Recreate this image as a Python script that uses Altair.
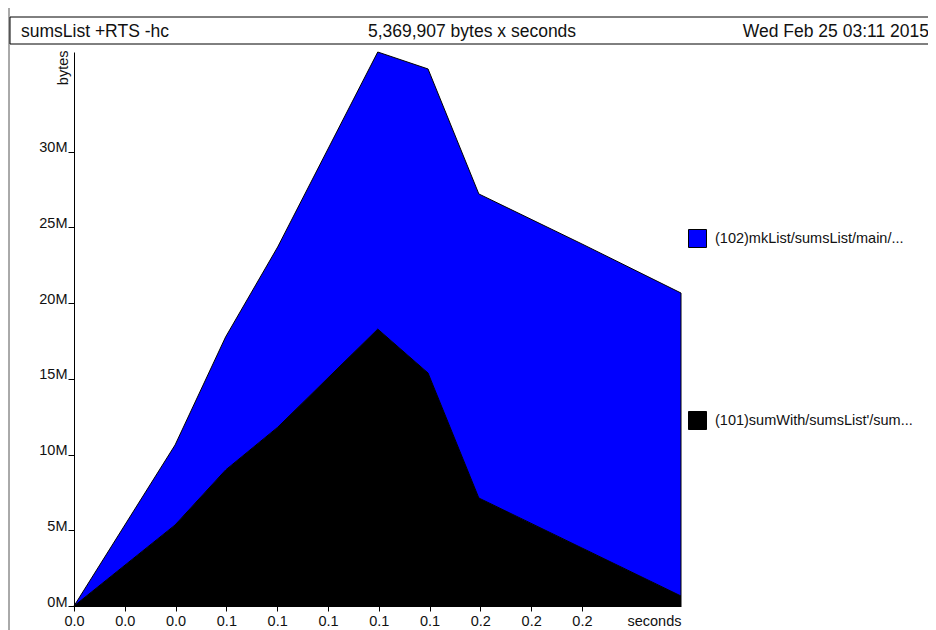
import altair as alt
import pandas as pd

# ---- data (heap profile, bytes vs seconds) ----
times = [0.0, 0.0398, 0.0597, 0.0802, 0.1196, 0.1394, 0.1594, 0.2000, 0.2390]
sumwith_bytes = [0, 5.35e6, 8.98e6, 11.80e6, 18.28e6, 15.38e6, 7.13e6, 3.83e6, 0.66e6]
mklist_bytes = [0, 5.28e6, 8.78e6, 11.90e6, 18.29e6, 20.07e6, 20.07e6, 20.07e6, 20.00e6]

band_mk = "(102)mkList/sumsList/main/..."
band_sw = "(101)sumWith/sumsList'/sum..."

x_tick_values = [0.0, 0.02, 0.04, 0.06, 0.08, 0.10, 0.12, 0.14, 0.16, 0.18, 0.20]
y_tick_values = [0, 5e6, 10e6, 15e6, 20e6, 25e6, 30e6]

header_left = "sumsList +RTS -hc"
header_mid = "5,369,907 bytes x seconds"
header_right = "Wed Feb 25 03:11 2015"

FONT = "Liberation Sans"
SMALL = 14.5
BIG = 17.5

rows = []
for t, a, b in zip(times, sumwith_bytes, mklist_bytes):
    rows.append({"t": t, "bytes": a, "band": band_sw, "k": 0})
    rows.append({"t": t, "bytes": b, "band": band_mk, "k": 1})
df = pd.DataFrame(rows)

ymax = max(a + b for a, b in zip(sumwith_bytes, mklist_bytes))

W, H = 607, 554

areas = alt.Chart(df).mark_area(stroke="black", strokeWidth=1, opacity=1).encode(
    x=alt.X("t:Q",
            scale=alt.Scale(domain=[0, times[-1]], nice=False, zero=False),
            axis=alt.Axis(values=x_tick_values, labelExpr="format(datum.value, '.1f')",
                          tickSize=5, tickColor="black", domainColor="black", grid=False,
                          labelFont=FONT, labelFontSize=SMALL, labelColor="#111", labelPadding=3,
                          labelFlush=False,
                          title="seconds", titleFont=FONT, titleFontSize=SMALL, titleFontWeight="normal",
                          titleColor="#111", titleAnchor="end", titleAlign="right",
                          titleBaseline="top", titleX=W, titleY=8)),
    y=alt.Y("bytes:Q", stack="zero",
            scale=alt.Scale(domain=[0, ymax], nice=False),
            axis=alt.Axis(values=y_tick_values, labelExpr="(datum.value/1000000) + 'M'",
                          tickSize=6, tickColor="black", domainColor="black", grid=False,
                          labelFont=FONT, labelFontSize=SMALL, labelColor="#111", labelPadding=1,
                          labelBaseline="alphabetic",
                          title="bytes", titleFont=FONT, titleFontSize=SMALL, titleFontWeight="normal",
                          titleColor="#111", titleAngle=270, titleAlign="right",
                          titleBaseline="alphabetic", titleX=-7, titleY=-2)),
    color=alt.Color("band:N",
                    scale=alt.Scale(domain=[band_mk, band_sw], range=["#0000ff", "#000000"]),
                    legend=alt.Legend(orient="none", legendX=614, legendY=177, direction="vertical",
                                      title=None, symbolType="square", symbolSize=324,
                                      symbolStrokeColor="black", symbolStrokeWidth=1,
                                      symbolOpacity=1,
                                      labelFont=FONT, labelFontSize=SMALL, labelColor="#111",
                                      labelOffset=8, rowPadding=159, padding=0, labelLimit=400)),
    order=alt.Order("k:Q", sort="ascending"),
)

hdr = pd.DataFrame({"a": [header_left], "b": [header_mid], "c": [header_right]})

box = alt.Chart(hdr).mark_rect(fill=None, stroke="black", strokeWidth=1, clip=False).encode(
    x=alt.value(-64), x2=alt.value(900), y=alt.value(-35), y2=alt.value(-8))

t_left = alt.Chart(hdr).mark_text(align="left", baseline="middle", font=FONT, fontSize=BIG,
                                  color="#111").encode(
    x=alt.value(-53), y=alt.value(-20), text="a:N")
t_mid = alt.Chart(hdr).mark_text(align="center", baseline="middle", font=FONT, fontSize=BIG,
                                 color="#111").encode(
    x=alt.value(398), y=alt.value(-20), text="b:N")
t_right = alt.Chart(hdr).mark_text(align="right", baseline="middle", font=FONT, fontSize=BIG,
                                   color="#111").encode(
    x=alt.value(855), y=alt.value(-20), text="c:N")

frame = alt.Chart(hdr).mark_rule(color="#555", strokeWidth=1).encode(
    x=alt.value(-65), y=alt.value(-44), y2=alt.value(H + 30))

chart = alt.layer(areas, frame, box, t_left, t_mid, t_right).properties(
    width=W, height=H,
    autosize=alt.AutoSizeParams(type="none"),
    padding={"left": 66, "top": 44, "right": 247, "bottom": 24},
).configure_view(stroke=None)

chart.save("out.html", embed_options={"renderer": "svg", "actions": False})
